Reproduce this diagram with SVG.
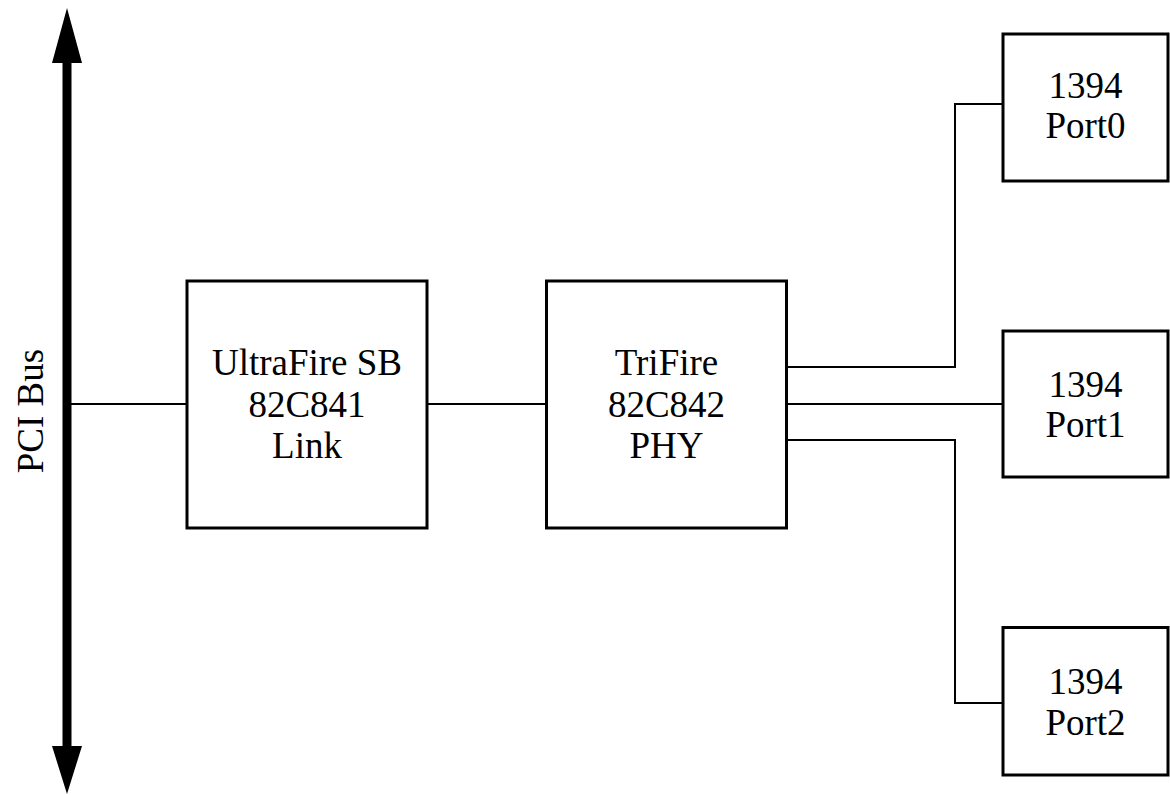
<svg xmlns="http://www.w3.org/2000/svg" width="1170" height="795" viewBox="0 0 1170 795">
<style>
.box{fill:#fff;stroke:#000;stroke-width:3}
.t{font-family:"Liberation Serif","Times New Roman",serif;font-size:37px;fill:#000;text-anchor:middle}
.c{fill:none;stroke:#000;stroke-width:2}
</style>
<rect width="1170" height="795" fill="#fff"/>
<g id="pci-bus">
<rect x="62.5" y="60" width="9" height="690" fill="#000"/>
<polygon points="67,8 52,63 82,63" fill="#000"/>
<polygon points="67,794 52,746 82,746" fill="#000"/>
<text class="t" transform="translate(43,411) rotate(-90)">PCI Bus</text>
</g>
<g id="connectors">
<line class="c" x1="71" y1="404" x2="187" y2="404"/>
<line class="c" x1="427" y1="404" x2="546" y2="404"/>
<line class="c" x1="787" y1="404" x2="1003" y2="404"/>
<polyline class="c" points="787,367 955,367 955,104 1003,104"/>
<polyline class="c" points="787,440 955,440 955,703 1003,703"/>
</g>
<g id="ultrafire">
<rect class="box" x="187" y="281" width="240" height="247"/>
<text class="t" x="307" y="375">UltraFire SB</text>
<text class="t" x="307" y="416.5">82C841</text>
<text class="t" x="307" y="458">Link</text>
</g>
<g id="trifire">
<rect class="box" x="546.5" y="281" width="240" height="247"/>
<text class="t" x="666.5" y="375">TriFire</text>
<text class="t" x="666.5" y="416.5">82C842</text>
<text class="t" x="666.5" y="458">PHY</text>
</g>
<g id="port0">
<rect class="box" x="1003" y="34" width="165" height="147"/>
<text class="t" x="1085.5" y="97.5">1394</text>
<text class="t" x="1085.5" y="138">Port0</text>
</g>
<g id="port1">
<rect class="box" x="1003" y="331" width="165" height="146"/>
<text class="t" x="1085.5" y="396.5">1394</text>
<text class="t" x="1085.5" y="437">Port1</text>
</g>
<g id="port2">
<rect class="box" x="1003" y="627.5" width="165" height="147.5"/>
<text class="t" x="1085.5" y="694">1394</text>
<text class="t" x="1085.5" y="735">Port2</text>
</g>
</svg>
